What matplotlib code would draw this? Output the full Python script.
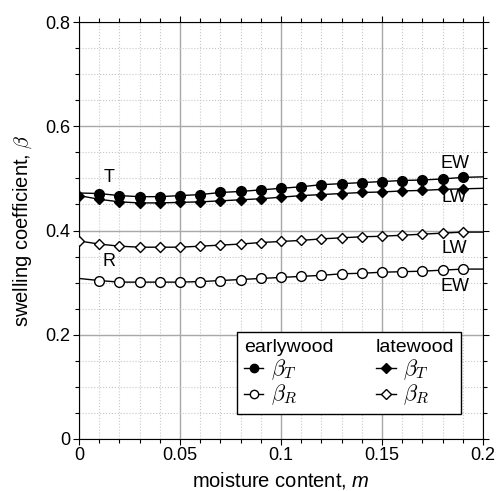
import numpy as np
import matplotlib
matplotlib.use('Agg')
import matplotlib.pyplot as plt
from matplotlib.lines import Line2D
from matplotlib.ticker import MultipleLocator

# moisture content
m = [0.00, 0.01, 0.02, 0.03, 0.04, 0.05, 0.06, 0.07, 0.08, 0.09, 0.10,
     0.11, 0.12, 0.13, 0.14, 0.15, 0.16, 0.17, 0.18, 0.19, 0.20]

# swelling coefficients
ew_T = [0.472, 0.471, 0.467, 0.465, 0.465, 0.467, 0.469, 0.473, 0.475, 0.478, 0.481,
        0.484, 0.488, 0.490, 0.492, 0.494, 0.496, 0.497, 0.499, 0.502, 0.503]
lw_T = [0.467, 0.460, 0.455, 0.453, 0.453, 0.454, 0.455, 0.457, 0.459, 0.461, 0.464,
        0.467, 0.469, 0.471, 0.473, 0.474, 0.476, 0.477, 0.479, 0.480, 0.481]
lw_R = [0.380, 0.374, 0.370, 0.368, 0.368, 0.368, 0.370, 0.372, 0.374, 0.377, 0.379,
        0.381, 0.384, 0.386, 0.388, 0.389, 0.391, 0.393, 0.395, 0.397, 0.397]
ew_R = [0.308, 0.304, 0.301, 0.301, 0.301, 0.301, 0.302, 0.304, 0.306, 0.308, 0.310,
        0.312, 0.314, 0.317, 0.318, 0.320, 0.321, 0.322, 0.324, 0.326, 0.326]

annotations = [('T', 0.015, 0.501), ('R', 0.015, 0.340),
               ('EW', 0.186, 0.529), ('LW', 0.186, 0.464),
               ('LW', 0.186, 0.366), ('EW', 0.186, 0.293)]

plt.rcParams['font.family'] = ['Liberation Sans', 'DejaVu Sans']
plt.rcParams['mathtext.fontset'] = 'cm'
plt.rcParams['mathtext.it'] = 'Liberation Sans:italic'
plt.rcParams['mathtext.rm'] = 'Liberation Sans'
plt.rcParams['mathtext.bf'] = 'Liberation Sans:bold'

fig = plt.figure(figsize=(4.97, 4.91), dpi=100)
ax = fig.add_axes([0.159, 0.106, 0.813, 0.849])

ew_marks = slice(1, 20)
lw_marks = slice(0, 20)
ms = 7
ax.plot(m, ew_T, '-o', color='k', mfc='k', mec='k', ms=ms, lw=1, markevery=ew_marks, zorder=3)
ax.plot(m, lw_T, '-D', color='k', mfc='k', mec='k', ms=ms - 1.5, lw=1, markevery=lw_marks, zorder=3)
ax.plot(m, lw_R, '-D', color='k', mfc='w', mec='k', ms=ms - 1.5, lw=1, markevery=lw_marks, zorder=3)
ax.plot(m, ew_R, '-o', color='k', mfc='w', mec='k', ms=ms, lw=1, markevery=ew_marks, zorder=3)

for txt, xx, yy in annotations:
    ax.text(xx, yy, txt, fontsize=13, ha='center', va='center')

ax.set_xlim(0, 0.2)
ax.set_ylim(0, 0.8)
ax.xaxis.set_minor_locator(MultipleLocator(0.01))
ax.yaxis.set_minor_locator(MultipleLocator(0.05))
ax.set_xticks([0, 0.05, 0.1, 0.15, 0.2])
ax.set_xticklabels(['0', '0.05', '0.1', '0.15', '0.2'])
ax.set_yticks([0, 0.2, 0.4, 0.6, 0.8])
ax.set_yticklabels(['0', '0.2', '0.4', '0.6', '0.8'])
ax.tick_params(which='both', direction='out', top=True, right=True, labelsize=13, width=0.8)
ax.tick_params(which='major', length=4, pad=2)
ax.tick_params(which='minor', length=3)
ax.grid(which='major', color='#a8a8a8', lw=1, ls='-')
ax.grid(which='minor', color='#c8c8c8', lw=0.8, ls=':')
ax.set_axisbelow(True)

ax.set_xlabel(r'moisture content, $\mathit{m}$', fontsize=14.5, labelpad=4,
              math_fontfamily='custom')
ax.set_ylabel(r'swelling coefficient, $\beta$', fontsize=14.5, labelpad=8)

# legend with column headers
hdr = Line2D([], [], linestyle='none')
handles = [hdr,
           Line2D([], [], color='k', marker='o', mfc='k', ms=6, lw=1),
           Line2D([], [], color='k', marker='o', mfc='w', ms=6, lw=1),
           hdr,
           Line2D([], [], color='k', marker='D', mfc='k', ms=5, lw=1),
           Line2D([], [], color='k', marker='D', mfc='w', ms=5, lw=1)]
labels = ['earlywood', r'$\beta_T$', r'$\beta_R$', 'latewood', r'$\beta_T$', r'$\beta_R$']
leg = ax.legend(handles, labels, ncol=2, loc='lower left', bbox_to_anchor=(0.391, 0.06),
                borderaxespad=0, fontsize=14, handlelength=1.0, handletextpad=0.4,
                columnspacing=2.2, labelspacing=0.05, borderpad=0.35, fancybox=False,
                edgecolor='k', framealpha=1)
leg.get_frame().set_linewidth(1)
for t in leg.get_texts():
    if '$' in t.get_text():
        t.set_fontsize(16)
# pull header labels to the left edge of the handle column
for col in leg._legend_handle_box.get_children():
    row = col.get_children()[0]
    row.get_children()[0].width = 0
    row.sep = 0

fig.savefig('out.png', dpi=100)
